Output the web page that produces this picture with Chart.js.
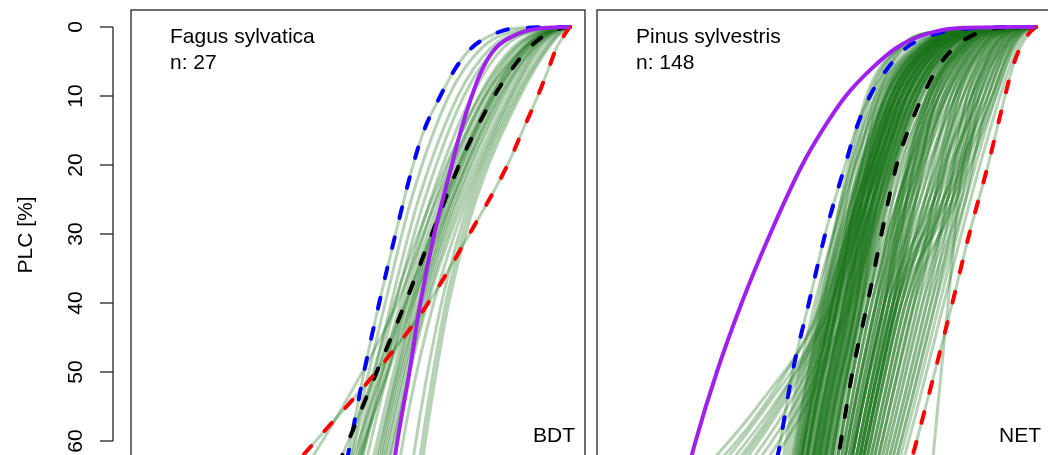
<!DOCTYPE html>
<html><head><meta charset="utf-8">
<script src="https://cdn.jsdelivr.net/npm/chart.js@4.4.1/dist/chart.umd.min.js"></script>
<style>
html,body{margin:0;padding:0;background:#fff;overflow:hidden;width:1048px;height:455px;}
#c1{position:absolute;left:0;top:0;width:590px;height:520px;}
#c2{position:absolute;left:590px;top:0;width:470px;height:520px;}
</style></head><body>
<canvas id="c1" width="590" height="520"></canvas>
<canvas id="c2" width="470" height="520"></canvas>
<script>
// ---------- axis / labels ----------
const Y_TICKS = [0, 10, 20, 30, 40, 50, 60];
const Y_TITLE = 'PLC [%]';
const PSI_RANGE = [-7.25, 0.25];
const PLC_RANGE = [-2.464, 70];

// PLC levels at which each curve's water potential was read
const KEY_LEVELS   = [0, 0.2, 1, 3, 6, 10, 15, 20, 30, 40, 50, 60, 70];
const GREEN_LEVELS = [0, 0.5, 3, 10, 25, 40, 55, 70];

// ---------- Fagus sylvatica ----------
const FAGUS_NAME = 'Fagus sylvatica';
const FAGUS_N = 'n: 27';
const FAGUS_PFT = 'BDT';
const FAGUS_PURPLE = [0,-0.50,-0.86,-1.22,-1.44,-1.62,-1.80,-1.95,-2.24,-2.47,-2.65,-2.85,-3.02];
const FAGUS_BLUE   = [0,-0.92,-1.25,-1.62,-1.89,-2.14,-2.41,-2.59,-2.88,-3.15,-3.40,-3.62,-3.85];
const FAGUS_BLACK  = [0,-0.15,-0.38,-0.67,-0.95,-1.25,-1.56,-1.83,-2.28,-2.72,-3.19,-3.66,-4.15];
const FAGUS_RED    = [0,-0.02,-0.08,-0.22,-0.35,-0.53,-0.78,-1.03,-1.66,-2.34,-3.20,-4.20,-5.20];
const FAGUS_OTHER = [
[0,-0.70,-1.30,-1.85,-2.50,-2.95,-3.35,-3.70],
[0,-0.60,-1.20,-1.75,-2.40,-2.88,-3.30,-3.68],
[0,-0.55,-1.10,-1.62,-2.30,-2.80,-3.25,-3.65],
[0,-0.45,-0.95,-1.50,-2.22,-2.75,-3.22,-3.62],
[0,-0.40,-0.88,-1.42,-2.15,-2.70,-3.15,-3.55],
[0,-0.38,-0.82,-1.38,-2.10,-2.62,-3.05,-3.45],
[0,-0.35,-0.78,-1.32,-2.05,-2.58,-3.00,-3.40],
[0,-0.32,-0.74,-1.28,-2.00,-2.55,-2.98,-3.35],
[0,-0.30,-0.70,-1.22,-1.95,-2.50,-2.95,-3.30],
[0,-0.28,-0.66,-1.18,-1.92,-2.48,-2.92,-3.28],
[0,-0.26,-0.62,-1.12,-1.88,-2.45,-2.88,-3.25],
[0,-0.24,-0.58,-1.08,-1.85,-2.42,-2.85,-3.22],
[0,-0.22,-0.55,-1.02,-1.80,-2.38,-2.80,-3.18],
[0,-0.20,-0.52,-0.98,-1.75,-2.35,-2.78,-3.15],
[0,-0.30,-0.72,-1.25,-2.02,-2.65,-3.20,-3.70],
[0,-0.33,-0.76,-1.30,-2.08,-2.70,-3.30,-3.85],
[0,-0.25,-0.60,-1.15,-1.95,-2.60,-3.20,-3.80],
[0,-0.18,-0.48,-0.95,-1.70,-2.25,-2.65,-2.95],
[0,-0.15,-0.42,-0.90,-1.65,-2.12,-2.45,-2.72],
[0,-0.12,-0.38,-0.86,-1.60,-2.05,-2.35,-2.60],
[0,-0.10,-0.35,-0.82,-1.55,-2.00,-2.30,-2.55],
[0,-0.30,-0.75,-1.40,-2.20,-2.85,-3.75,-4.80],
[0,-0.85,-1.45,-2.00,-2.62,-3.05,-3.45,-3.80],
[0,-0.42,-0.90,-1.48,-2.28,-2.90,-3.40,-3.80]
];

// ---------- Pinus sylvestris ----------
const PINUS_NAME = 'Pinus sylvestris';
const PINUS_N = 'n: 148';
const PINUS_PFT = 'NET';
const PINUS_PURPLE = [0,-1.35,-1.80,-2.30,-2.71,-3.14,-3.53,-3.86,-4.39,-4.86,-5.27,-5.62,-5.92];
const PINUS_BLUE   = [0,-1.10,-1.65,-2.14,-2.45,-2.74,-2.98,-3.15,-3.48,-3.75,-4.02,-4.22,-4.42];
const PINUS_BLACK  = [0,-0.72,-1.00,-1.35,-1.63,-1.87,-2.11,-2.30,-2.55,-2.78,-3.03,-3.22,-3.42];
const PINUS_RED    = [0,-0.03,-0.12,-0.26,-0.39,-0.51,-0.65,-0.79,-1.10,-1.38,-1.67,-1.97,-2.28];
const PINUS_OTHER = [
[0,-1.26,-2.06,-2.65,-3.21,-3.60,-3.97,-4.27],
[0,-1.21,-1.98,-2.57,-3.17,-3.65,-4.02,-4.32],
[0,-1.23,-2.02,-2.61,-3.13,-3.51,-3.87,-4.17],
[0,-1.17,-1.90,-2.48,-3.08,-3.56,-3.92,-4.22],
[0,-1.19,-1.94,-2.52,-3.04,-3.41,-3.77,-4.07],
[0,-1.14,-1.86,-2.44,-3.04,-3.51,-3.87,-4.17],
[0,-1.17,-1.90,-2.48,-3.00,-3.36,-3.72,-4.02],
[0,-1.12,-1.82,-2.39,-3.00,-3.46,-3.82,-4.12],
[0,-1.14,-1.86,-2.44,-2.95,-3.31,-3.67,-3.97],
[0,-1.10,-1.78,-2.35,-2.95,-3.41,-3.77,-4.07],
[0,-1.12,-1.82,-2.39,-2.91,-3.27,-3.63,-3.92],
[0,-1.08,-1.75,-2.31,-2.91,-3.36,-3.72,-4.02],
[0,-1.10,-1.78,-2.35,-2.87,-3.22,-3.58,-3.87],
[0,-1.05,-1.71,-2.26,-2.87,-3.31,-3.67,-3.97],
[0,-1.08,-1.75,-2.31,-2.82,-3.17,-3.53,-3.82],
[0,-1.03,-1.67,-2.22,-2.82,-3.27,-3.63,-3.92],
[0,-1.05,-1.71,-2.26,-2.78,-3.12,-3.48,-3.77],
[0,-1.01,-1.63,-2.17,-2.78,-3.22,-3.58,-3.87],
[0,-1.03,-1.67,-2.22,-2.73,-3.07,-3.43,-3.72],
[0,-0.99,-1.59,-2.13,-2.73,-3.17,-3.53,-3.82],
[0,-1.01,-1.63,-2.17,-2.69,-3.02,-3.38,-3.67],
[0,-0.96,-1.55,-2.09,-2.69,-3.12,-3.48,-3.77],
[0,-0.99,-1.59,-2.13,-2.65,-2.97,-3.33,-3.62],
[0,-0.94,-1.51,-2.04,-2.65,-3.07,-3.43,-3.72],
[0,-0.96,-1.55,-2.09,-2.60,-2.93,-3.28,-3.57],
[0,-0.92,-1.47,-2.00,-2.60,-3.02,-3.38,-3.67],
[0,-0.94,-1.51,-2.04,-2.56,-2.88,-3.23,-3.52],
[0,-0.90,-1.43,-1.96,-2.56,-2.97,-3.33,-3.62],
[0,-0.92,-1.47,-2.00,-2.52,-2.83,-3.18,-3.47],
[0,-0.87,-1.39,-1.91,-2.52,-2.93,-3.28,-3.57],
[0,-0.90,-1.43,-1.96,-2.47,-2.78,-3.13,-3.42],
[0,-0.85,-1.35,-1.87,-2.47,-2.88,-3.23,-3.52],
[0,-1.17,-1.90,-2.48,-2.95,-3.27,-3.63,-3.92],
[0,-1.08,-1.75,-2.31,-2.95,-3.46,-3.82,-4.12],
[0,-1.03,-1.67,-2.22,-2.69,-2.97,-3.33,-3.62],
[0,-0.94,-1.51,-2.04,-2.69,-3.17,-3.53,-3.82],
[0,-1.12,-1.82,-2.39,-2.78,-2.97,-3.33,-3.62],
[0,-0.94,-1.51,-2.04,-2.78,-3.36,-3.72,-4.02],
[0,-1.21,-1.98,-2.57,-3.00,-3.27,-3.63,-3.92],
[0,-1.05,-1.71,-2.26,-2.91,-3.41,-3.77,-4.07],
[0,-1.01,-1.63,-2.17,-2.82,-3.31,-3.67,-3.97],
[0,-1.14,-1.86,-2.44,-2.87,-3.12,-3.48,-3.77],
[0,-1.10,-1.78,-2.35,-2.78,-3.02,-3.38,-3.67],
[0,-0.99,-1.59,-2.13,-2.60,-2.88,-3.23,-3.52],
[0,-0.90,-1.43,-1.96,-2.60,-3.07,-3.43,-3.72],
[0,-1.19,-1.94,-2.52,-2.91,-3.17,-3.53,-3.82],
[0,-0.96,-1.55,-2.09,-2.78,-3.27,-3.63,-3.92],
[0,-1.08,-1.75,-2.31,-2.73,-2.97,-3.33,-3.62],
[0,-1.03,-1.67,-2.22,-2.91,-3.36,-3.72,-4.02],
[0,-1.12,-1.82,-2.39,-2.87,-3.17,-3.53,-3.82],
[0,-1.05,-1.71,-2.26,-2.69,-2.93,-3.28,-3.57],
[0,-0.92,-1.47,-2.00,-2.65,-3.12,-3.48,-3.77],
[0,-1.17,-1.90,-2.48,-2.87,-3.07,-3.43,-3.72],
[0,-0.99,-1.59,-2.13,-2.87,-3.36,-3.72,-4.02],
[0,-1.10,-1.78,-2.35,-2.82,-3.07,-3.43,-3.72],
[0,-1.01,-1.63,-2.17,-2.65,-2.88,-3.23,-3.52],
[0,-0.87,-1.39,-1.91,-2.56,-3.02,-3.38,-3.67],
[0,-1.08,-1.75,-2.31,-2.78,-3.12,-3.48,-3.77],
[0,-1.03,-1.67,-2.22,-2.78,-3.17,-3.53,-3.82],
[0,-0.99,-1.59,-2.13,-2.69,-3.07,-3.43,-3.72],
[0,-1.08,-1.75,-2.31,-2.87,-3.27,-3.63,-3.92],
[0,-0.94,-1.51,-2.04,-2.60,-2.97,-3.33,-3.62],
[0,-1.12,-1.82,-2.39,-2.95,-3.36,-3.72,-4.02],
[0,-0.90,-1.43,-1.96,-2.52,-2.88,-3.23,-3.52],
[0,-1.45,-2.28,-2.80,-3.22,-3.55,-3.85,-4.10],
[0,-1.42,-2.25,-2.72,-3.12,-3.45,-3.75,-4.00],
[0,-1.40,-2.22,-2.66,-3.05,-3.36,-3.66,-3.92],
[0,-1.38,-2.20,-2.60,-2.98,-3.28,-3.58,-3.85],
[0,-1.44,-2.26,-2.76,-3.18,-3.50,-3.80,-4.05],
[0,-1.12,-1.82,-2.39,-2.95,-3.45,-4.30,-5.60],
[0,-1.03,-1.67,-2.22,-2.78,-3.30,-4.20,-5.40],
[0,-1.08,-1.75,-2.31,-2.87,-3.40,-4.45,-5.80],
[0,-0.99,-1.59,-2.13,-2.69,-3.20,-4.00,-5.20],
[0,-1.17,-1.90,-2.48,-3.04,-3.55,-4.50,-6.00],
[0,-0.94,-1.51,-2.04,-2.60,-3.10,-3.90,-5.00],
[0,-1.12,-1.82,-2.39,-2.95,-3.50,-4.60,-6.10],
[0,-1.03,-1.67,-2.22,-2.78,-3.35,-4.35,-5.70],
[0,-0.99,-1.59,-2.13,-2.69,-3.25,-4.10,-5.30],
[0,-1.08,-1.75,-2.31,-2.87,-3.38,-4.25,-5.50],
[0,-0.90,-1.43,-1.96,-2.52,-3.05,-3.80,-4.90],
[0,-0.86,-1.30,-1.80,-2.36,-2.64,-3.00,-3.31],
[0,-0.82,-1.24,-1.74,-2.28,-2.71,-3.06,-3.36],
[0,-0.78,-1.19,-1.67,-2.25,-2.64,-3.00,-3.31],
[0,-0.74,-1.13,-1.60,-2.21,-2.64,-3.00,-3.31],
[0,-0.82,-1.24,-1.74,-2.21,-2.50,-2.87,-3.20],
[0,-0.70,-1.08,-1.53,-2.13,-2.57,-2.93,-3.25],
[0,-0.65,-1.02,-1.47,-2.06,-2.50,-2.87,-3.20],
[0,-0.86,-1.30,-1.80,-2.28,-2.57,-2.93,-3.25],
[0,-0.78,-1.19,-1.67,-2.13,-2.43,-2.80,-3.14],
[0,-0.74,-1.13,-1.60,-2.06,-2.36,-2.74,-3.08],
[0,-0.82,-1.24,-1.74,-2.36,-2.78,-3.13,-3.42],
[0,-0.70,-1.08,-1.53,-2.21,-2.71,-3.06,-3.36],
[0,-0.65,-1.02,-1.47,-2.13,-2.64,-3.00,-3.31],
[0,-0.61,-0.97,-1.40,-2.06,-2.57,-2.93,-3.25],
[0,-0.78,-1.19,-1.67,-1.98,-2.29,-2.67,-3.03],
[0,-0.86,-1.30,-1.80,-2.21,-2.43,-2.80,-3.14],
[0,-0.74,-1.13,-1.60,-2.28,-2.78,-3.13,-3.42],
[0,-0.82,-1.24,-1.74,-2.13,-2.36,-2.74,-3.08],
[0,-0.65,-1.02,-1.47,-1.98,-2.36,-2.74,-3.08],
[0,-0.70,-1.08,-1.53,-1.98,-2.43,-2.80,-3.14],
[0,-0.61,-0.97,-1.40,-1.91,-2.50,-2.87,-3.20],
[0,-0.57,-0.91,-1.33,-1.98,-2.50,-2.87,-3.20],
[0,-0.78,-1.19,-1.67,-2.28,-2.71,-3.06,-3.36],
[0,-0.86,-1.30,-1.80,-2.43,-2.85,-3.20,-3.48],
[0,-0.74,-1.13,-1.60,-2.13,-2.50,-2.87,-3.20],
[0,-0.80,-1.22,-1.71,-2.16,-2.61,-2.97,-3.29],
[0,-0.67,-1.04,-1.49,-2.10,-2.53,-2.89,-3.22],
[0,-0.83,-1.26,-1.76,-2.25,-2.50,-2.87,-3.20],
[0,-0.75,-1.15,-1.63,-2.03,-2.32,-2.70,-3.05],
[0,-0.61,-0.97,-1.40,-1.83,-2.29,-2.67,-3.03],
[0,-0.49,-0.81,-1.20,-1.76,-2.29,-2.67,-3.03],
[0,-0.41,-0.70,-1.06,-1.68,-2.22,-2.61,-2.97],
[0,-0.33,-0.59,-0.93,-1.61,-2.29,-2.67,-3.03],
[0,-0.24,-0.48,-0.79,-1.53,-2.36,-2.74,-3.08],
[0,-0.53,-0.86,-1.27,-1.68,-2.08,-2.48,-2.86],
[0,-0.45,-0.75,-1.13,-1.53,-2.01,-2.41,-2.80],
[0,-0.37,-0.64,-1.00,-1.38,-1.94,-2.34,-2.75],
[0,-0.29,-0.53,-0.86,-1.31,-1.87,-2.28,-2.69],
[0,-0.20,-0.42,-0.72,-1.23,-1.80,-2.21,-2.64],
[0,-0.16,-0.37,-0.66,-1.16,-1.66,-2.08,-2.52],
[0,-0.57,-0.91,-1.33,-1.76,-2.22,-2.61,-2.97],
[0,-0.49,-0.81,-1.20,-1.83,-2.43,-2.80,-3.14],
[0,-0.41,-0.70,-1.06,-1.76,-2.36,-2.74,-3.08],
[0,-0.33,-0.59,-0.93,-1.68,-2.43,-2.80,-3.14],
[0,-0.24,-0.48,-0.79,-1.46,-2.15,-2.54,-2.92],
[0,-0.16,-0.37,-0.66,-1.31,-2.08,-2.48,-2.86],
[0,-0.53,-0.86,-1.27,-1.61,-1.94,-2.34,-2.75],
[0,-0.45,-0.75,-1.13,-1.46,-1.80,-2.21,-2.64],
[0,-0.37,-0.64,-1.00,-1.31,-1.66,-2.08,-2.52],
[0,-0.29,-0.53,-0.86,-1.38,-2.01,-2.41,-2.80],
[0,-0.20,-0.42,-0.72,-1.38,-2.22,-2.61,-2.97],
[0,-0.57,-0.91,-1.33,-1.91,-2.36,-2.74,-3.08],
[0,-0.49,-0.81,-1.20,-1.61,-2.15,-2.54,-2.92],
[0,-0.41,-0.70,-1.06,-1.46,-1.87,-2.28,-2.69],
[0,-0.33,-0.59,-0.93,-1.23,-1.73,-2.15,-2.58],
[0,-0.24,-0.48,-0.79,-1.16,-1.59,-2.02,-2.47],
[0,-0.25,-0.55,-0.95,-1.28,-1.45,-1.62,-1.78],
[0,-0.53,-0.86,-1.27,-1.83,-2.29,-2.67,-3.03],
[0,-0.45,-0.75,-1.13,-1.68,-2.22,-2.61,-2.97],
[0,-0.37,-0.64,-1.00,-1.53,-2.08,-2.48,-2.86],
[0,-0.29,-0.53,-0.86,-1.53,-2.15,-2.54,-2.92],
[0,-0.20,-0.42,-0.72,-1.46,-2.29,-2.67,-3.03],
[0,-0.12,-0.31,-0.59,-1.08,-1.52,-1.95,-2.41],
[0,-0.41,-0.70,-1.06,-1.38,-1.73,-2.15,-2.58],
[0,-0.57,-0.91,-1.33,-1.68,-2.01,-2.41,-2.80]
];

// ---------- styles ----------
const GREEN = 'rgba(25,115,25,0.32)';
const FONT = '21px "Liberation Sans", Arial, Helvetica, sans-serif';

function toPoints(levels, psi) { return psi.map((x, i) => ({ x: x, y: levels[i] })); }

function buildDatasets(other, purple, blue, black, red) {
  const ds = [];
  ds.push({ data: toPoints(KEY_LEVELS, purple), borderColor: '#A020F0', borderWidth: 4, order: 0 });
  [[red, '#FF0000'], [black, '#000000'], [blue, '#0000FF']].forEach(([arr, col]) => {
    ds.push({ data: toPoints(KEY_LEVELS, arr), borderColor: col, borderWidth: 4,
      borderDash: [11, 20], borderCapStyle: 'round', order: 1 });
  });
  [blue, black, red].forEach(arr => {
    ds.push({ data: toPoints(KEY_LEVELS, arr), borderColor: GREEN, borderWidth: 3, order: 2 });
  });
  other.forEach(arr => {
    ds.push({ data: toPoints(GREEN_LEVELS, arr), borderColor: GREEN, borderWidth: 3, order: 2 });
  });
  return ds;
}

function panelPlugin(name, nText, pft, withAxis) {
  return {
    id: 'panelDecor',
    afterDraw(chart) {
      const ctx = chart.ctx, a = chart.chartArea, y = chart.scales.y;
      ctx.save();
      ctx.strokeStyle = '#222'; ctx.lineWidth = 1.3;
      ctx.strokeRect(a.left, a.top, a.right - a.left, a.bottom - a.top);
      ctx.fillStyle = '#000'; ctx.font = FONT;
      ctx.textAlign = 'left'; ctx.textBaseline = 'alphabetic';
      ctx.fillText(name, a.left + 39, a.top + 33);
      ctx.fillText(nText, a.left + 39, a.top + 59);
      ctx.textAlign = 'right';
      ctx.fillText(pft, a.right - 10, a.top + 432);
      if (withAxis) {
        const ax = a.left - 18;
        const yA = y.getPixelForValue(Y_TICKS[0]);
        const yB = y.getPixelForValue(Y_TICKS[Y_TICKS.length - 1]);
        ctx.beginPath(); ctx.moveTo(ax, yA); ctx.lineTo(ax, yB); ctx.stroke();
        Y_TICKS.forEach(t => {
          const py = y.getPixelForValue(t);
          ctx.beginPath(); ctx.moveTo(ax, py); ctx.lineTo(ax - 13, py); ctx.stroke();
          ctx.save();
          ctx.translate(ax - 31, py); ctx.rotate(-Math.PI / 2);
          ctx.textAlign = 'center'; ctx.fillText(String(t), 0, 0);
          ctx.restore();
        });
        ctx.save();
        ctx.translate(32, 235); ctx.rotate(-Math.PI / 2);
        ctx.textAlign = 'center'; ctx.fillText(Y_TITLE, 0, 0);
        ctx.restore();
      }
      ctx.restore();
    }
  };
}

function makeChart(id, padding, datasets, plugin) {
  return new Chart(document.getElementById(id), {
    type: 'line',
    data: { datasets: datasets },
    options: {
      responsive: false, animation: false, devicePixelRatio: 1,
      layout: { padding: padding },
      elements: { point: { radius: 0, hoverRadius: 0 }, line: { cubicInterpolationMode: 'monotone', fill: false } },
      scales: {
        x: { type: 'linear', min: PSI_RANGE[0], max: PSI_RANGE[1], display: false },
        y: { type: 'linear', min: PLC_RANGE[0], max: PLC_RANGE[1], reverse: true, display: false }
      },
      plugins: { legend: { display: false }, tooltip: { enabled: false } },
      events: []
    },
    plugins: [plugin]
  });
}

makeChart('c1', { left: 131, right: 5, top: 10, bottom: 10 },
  buildDatasets(FAGUS_OTHER, FAGUS_PURPLE, FAGUS_BLUE, FAGUS_BLACK, FAGUS_RED),
  panelPlugin(FAGUS_NAME, FAGUS_N, FAGUS_PFT, true));
makeChart('c2', { left: 7, right: 9, top: 10, bottom: 10 },
  buildDatasets(PINUS_OTHER, PINUS_PURPLE, PINUS_BLUE, PINUS_BLACK, PINUS_RED),
  panelPlugin(PINUS_NAME, PINUS_N, PINUS_PFT, false));
</script></body></html>
